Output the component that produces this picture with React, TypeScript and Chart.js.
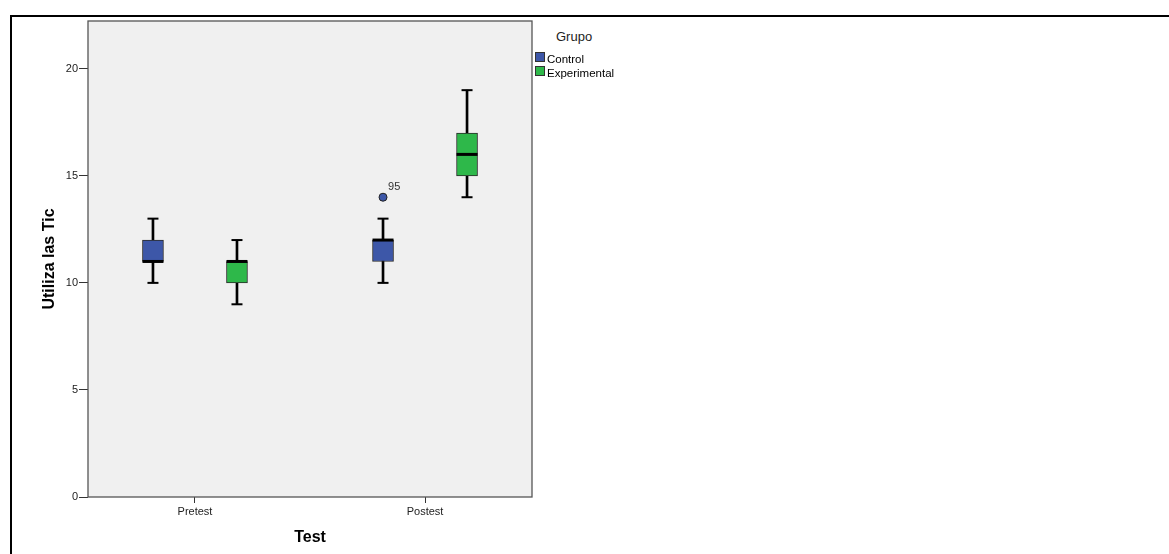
import React, { useEffect, useRef } from "react";
import { Chart, registerables } from "chart.js";

Chart.register(...registerables);

// ---- data ----
const categories = ["Pretest", "Postest"];
const groups = ["Control", "Experimental"];

const controlMin = [10, 10];
const controlQ1 = [11, 11];
const controlMedian = [11, 12];
const controlQ3 = [12, 12];
const controlMax = [13, 13];

const expMin = [9, 14];
const expQ1 = [10, 15];
const expMedian = [11, 16];
const expQ3 = [11, 17];
const expMax = [12, 19];

const outlierCategory = [1]; // index into categories
const outlierGroup = [0]; // index into groups
const outlierValue = [14];
const outlierLabel = ["95"];

const yTicks = [0, 5, 10, 15, 20];

// ---- styles ----
const GROUP_COLORS = ["#3D57A8", "#2EB84A"];
const GROUP_OFFSET = 0.1826;
const FONT = "'Liberation Sans', Arial, sans-serif";

const xPos = (cat: number, grp: number) => cat + 1 + (grp === 0 ? -1 : 1) * GROUP_OFFSET;

const stats = [
  { min: controlMin, q1: controlQ1, med: controlMedian, q3: controlQ3, max: controlMax },
  { min: expMin, q1: expQ1, med: expMedian, q3: expQ3, max: expMax },
];

const zeroPadding = (scale: any) => {
  scale.paddingTop = 0;
  scale.paddingBottom = 0;
  scale.paddingLeft = 0;
  scale.paddingRight = 0;
};

const framePlugin = {
  id: "frame",
  beforeDatasetsDraw(chart: any) {
    const { ctx, chartArea } = chart;
    ctx.save();
    ctx.fillStyle = "#F0F0F0";
    ctx.fillRect(chartArea.left, chartArea.top, chartArea.right - chartArea.left, chartArea.bottom - chartArea.top);
    ctx.strokeStyle = "#555";
    ctx.lineWidth = 1.3;
    ctx.strokeRect(chartArea.left, chartArea.top, chartArea.right - chartArea.left, chartArea.bottom - chartArea.top);
    ctx.restore();
  },
  afterDatasetsDraw(chart: any) {
    const { ctx } = chart;
    chart.data.datasets.forEach((ds: any, i: number) => {
      if (!ds.outlierLabels) return;
      const meta = chart.getDatasetMeta(i);
      ctx.save();
      ctx.fillStyle = "#333";
      ctx.font = `11px ${FONT}`;
      ctx.textAlign = "left";
      ctx.textBaseline = "alphabetic";
      meta.data.forEach((el: any, j: number) => {
        ctx.fillText(ds.outlierLabels[j], el.x + 5, el.y - 7);
      });
      ctx.restore();
    });
  },
};

export default function App() {
  const ref = useRef<HTMLCanvasElement>(null);

  useEffect(() => {
    if (!ref.current) return;
    const datasets: any[] = [];
    stats.forEach((s, g) => {
      // whiskers
      datasets.push({
        type: "bar",
        label: groups[g] + " whisker",
        data: categories.map((_, c) => ({ x: xPos(c, g), y: [s.min[c], s.max[c]] })),
        backgroundColor: "#000",
        borderWidth: 0,
        barThickness: 2,
        grouped: false,
        order: 4,
      });
      // boxes
      datasets.push({
        type: "bar",
        label: groups[g],
        data: categories.map((_, c) => ({ x: xPos(c, g), y: [s.q1[c], s.q3[c]] })),
        backgroundColor: GROUP_COLORS[g],
        borderColor: "#2a2a2a",
        borderWidth: 1,
        borderSkipped: false,
        barThickness: 21,
        grouped: false,
        order: 3,
      });
      // caps
      datasets.push({
        type: "scatter",
        label: groups[g] + " caps",
        data: categories.flatMap((_, c) => [
          { x: xPos(c, g), y: s.min[c] },
          { x: xPos(c, g), y: s.max[c] },
        ]),
        pointStyle: "line",
        radius: 5.5,
        hoverRadius: 5.5,
        borderWidth: 2,
        hoverBorderWidth: 2,
        borderColor: "#000",
        order: 2,
      });
      // medians
      datasets.push({
        type: "scatter",
        label: groups[g] + " median",
        data: categories.map((_, c) => ({ x: xPos(c, g), y: s.med[c] })),
        pointStyle: "line",
        radius: 10.5,
        hoverRadius: 10.5,
        borderWidth: 3,
        hoverBorderWidth: 3,
        borderColor: "#000",
        order: 1,
      });
    });
    datasets.push({
      type: "scatter",
      label: "outliers",
      data: outlierValue.map((v, i) => ({ x: xPos(outlierCategory[i], outlierGroup[i]), y: v })),
      outlierLabels: outlierLabel,
      pointStyle: "circle",
      radius: 4,
      hoverRadius: 4,
      backgroundColor: outlierGroup.map((g) => GROUP_COLORS[g]),
      borderColor: "#222",
      borderWidth: 1,
      order: 0,
    });

    const chart = new Chart(ref.current, {
      type: "bar",
      data: { datasets },
      plugins: [framePlugin],
      options: {
        animation: false,
        responsive: false,
        events: [],
        layout: { autoPadding: false, padding: { left: 0, top: 4, right: 8, bottom: 0 } },
        font: { family: FONT },
        plugins: { legend: { display: false }, tooltip: { enabled: false } },
        scales: {
          x: {
            type: "linear",
            min: 0.535,
            max: 2.465,
            offset: false,
            grid: { offset: false, drawOnChartArea: false, drawTicks: true, tickLength: 6, color: "#333", lineWidth: 1 },
            border: { display: false },
            afterBuildTicks: (scale: any) => {
              scale.ticks = categories.map((_, i) => ({ value: i + 1 }));
            },
            afterFit: (scale: any) => {
              scale.height = 57;
              zeroPadding(scale);
            },
            ticks: {
              autoSkip: false,
              maxRotation: 0,
              padding: 2,
              color: "#222",
              font: { size: 11, family: FONT },
              callback: (v: any) => categories[Number(v) - 1] ?? "",
            },
            title: {
              display: true,
              text: "Test",
              color: "#000",
              font: { size: 16, weight: "bold", family: FONT },
              padding: { top: 0, bottom: 6.4 },
            },
          },
          y: {
            type: "linear",
            min: 0,
            max: 22.23,
            grid: { drawOnChartArea: false, drawTicks: true, tickLength: 9, color: "#333", lineWidth: 1 },
            border: { display: false },
            afterBuildTicks: (scale: any) => {
              scale.ticks = yTicks.map((v) => ({ value: v }));
            },
            afterFit: (scale: any) => {
              scale.width = 76;
              zeroPadding(scale);
            },
            ticks: {
              padding: 1,
              color: "#222",
              font: { size: 11, family: FONT },
            },
            title: {
              display: true,
              text: "Utiliza las Tic",
              color: "#000",
              font: { size: 16, weight: "bold", family: FONT },
              padding: { top: 28.4, bottom: 0 },
            },
          },
        },
      } as any,
    });
    return () => chart.destroy();
  }, []);

  const legendText: React.CSSProperties = {
    position: "absolute",
    left: 547,
    fontFamily: FONT,
    fontSize: 11.5,
    lineHeight: "14px",
    color: "#000",
    whiteSpace: "nowrap",
  };
  const swatch = (color: string, top: number): React.CSSProperties => ({
    position: "absolute",
    left: 535,
    top,
    width: 10,
    height: 10,
    boxSizing: "border-box",
    border: "1px solid #333",
    background: color,
  });

  return (
    <div style={{ position: "absolute", left: 0, top: 0, width: 1169, height: 554, overflow: "hidden", background: "#fff" }}>
      <div
        style={{
          position: "absolute",
          left: 10,
          top: 15,
          width: 1300,
          height: 700,
          borderLeft: "2px solid #000",
          borderTop: "2px solid #000",
        }}
      />
      <canvas ref={ref} width={528} height={537} style={{ position: "absolute", left: 12, top: 17, width: 528, height: 537 }} />
      <div style={{ position: "absolute", left: 556, top: 29, fontFamily: FONT, fontSize: 13, lineHeight: "16px", color: "#222" }}>Grupo</div>
      <div style={swatch(GROUP_COLORS[0], 52)} />
      <div style={{ ...legendText, top: 52 }}>{groups[0]}</div>
      <div style={swatch(GROUP_COLORS[1], 66)} />
      <div style={{ ...legendText, top: 65.5 }}>{groups[1]}</div>
    </div>
  );
}
